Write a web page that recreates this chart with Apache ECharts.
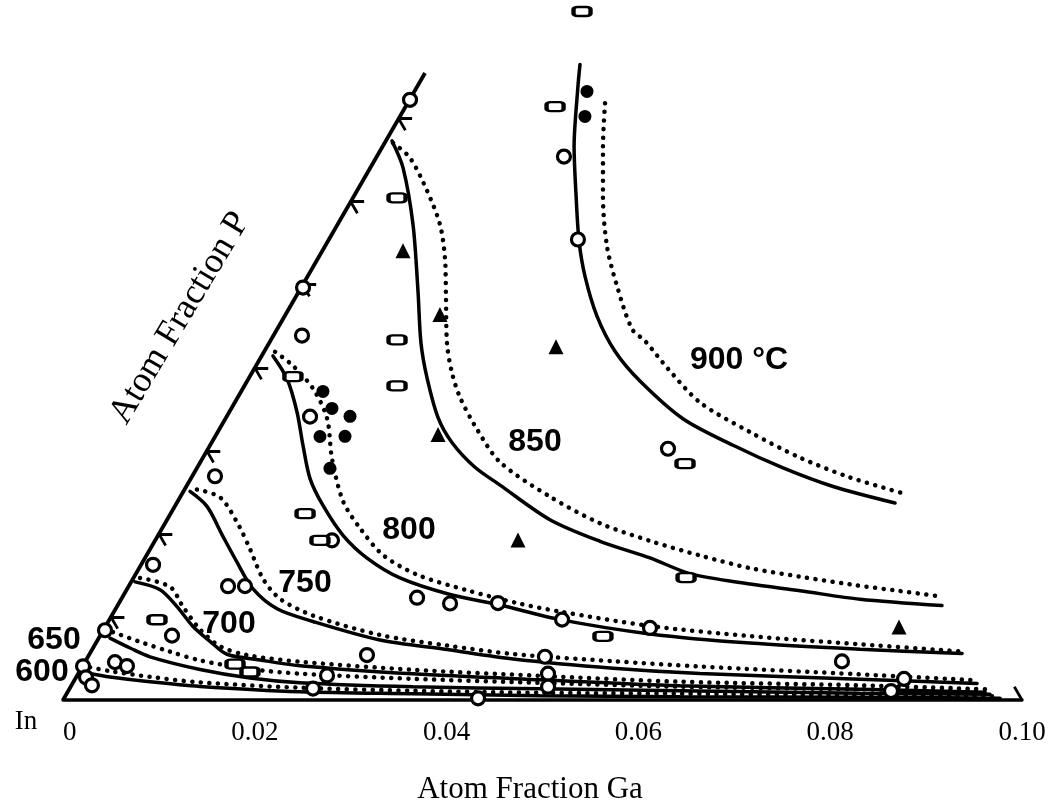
<!DOCTYPE html>
<html><head><meta charset="utf-8">
<script src="https://cdn.jsdelivr.net/npm/echarts/dist/echarts.min.js"></script>
<style>html,body{margin:0;padding:0;background:#fff}#c{width:1060px;height:806px}</style>
</head><body><div id="c"></div>
<script>
// ---- data: [atom fraction Ga, atom fraction P] ----
const GA_TICKS = [0, 0.02, 0.04, 0.06, 0.08, 0.10];
const P_LABELS = [0.02, 0.04, 0.06];
const P_MARKS = [0.01, 0.02, 0.03, 0.04, 0.05, 0.06, 0.07];
const P_AXIS_END = 0.0755;

const iso900Solid = [[0.01565,0.07652],[0.01676,0.07387],[0.01997,0.06665],[0.02319,0.06063],[0.02621,0.05521],[0.02893,0.05101],[0.03259,0.04620],[0.03656,0.04200],[0.04096,0.03841],[0.04771,0.03387],[0.05454,0.03067],[0.06111,0.02795],[0.06745,0.02571],[0.07490,0.02372]];
const iso900Dotted = [[0.02060,0.07185],[0.02297,0.06667],[0.02598,0.06065],[0.02941,0.05463],[0.03286,0.04983],[0.03701,0.04466],[0.03908,0.04323],[0.04315,0.03988],[0.04852,0.03582],[0.05551,0.03226],[0.06226,0.02918],[0.06867,0.02680],[0.07539,0.02482]];
const iso850Solid = [[0.00065,0.06732],[0.00342,0.06408],[0.00789,0.05722],[0.01238,0.04927],[0.01582,0.04301],[0.01855,0.03881],[0.02211,0.03400],[0.02505,0.03101],[0.02895,0.02802],[0.03263,0.02588],[0.03992,0.02171],[0.04644,0.01911],[0.05265,0.01711],[0.05777,0.01522],[0.06466,0.01396],[0.07027,0.01316],[0.07704,0.01213],[0.08597,0.01137]];
const iso850Dotted = [[0.00087,0.06708],[0.00355,0.06527],[0.00730,0.06132],[0.01069,0.05724],[0.01319,0.05327],[0.01571,0.04845],[0.01852,0.04303],[0.02084,0.03943],[0.02318,0.03644],[0.02687,0.03260],[0.03124,0.02865],[0.03854,0.02448],[0.04536,0.02128],[0.05163,0.01916],[0.05773,0.01740],[0.06370,0.01588],[0.06943,0.01485],[0.07511,0.01392],[0.08072,0.01312],[0.08543,0.01245]];
const iso800Solid = [[0.00118,0.04143],[0.00402,0.03868],[0.00704,0.03471],[0.00972,0.03062],[0.01243,0.02666],[0.01540,0.02342],[0.01928,0.01983],[0.02316,0.01709],[0.02779,0.01470],[0.03401,0.01270],[0.03986,0.01143],[0.04699,0.00968],[0.05723,0.00796],[0.06821,0.00685],[0.08005,0.00611],[0.09095,0.00560]];
const iso800Dotted = [[0.00115,0.04193],[0.00385,0.04025],[0.00732,0.03750],[0.01058,0.03391],[0.01350,0.02909],[0.01724,0.02393],[0.02063,0.02069],[0.02464,0.01746],[0.02938,0.01509],[0.03553,0.01321],[0.04150,0.01168],[0.04651,0.01064],[0.05675,0.00892],[0.06779,0.00769],[0.07976,0.00671],[0.09083,0.00584]];
const iso750Solid = [[0.00069,0.02511],[0.00336,0.02331],[0.00682,0.01971],[0.00984,0.01660],[0.01313,0.01337],[0.01683,0.01098],[0.02134,0.00945],[0.02945,0.00722],[0.03700,0.00608],[0.04446,0.00494],[0.05543,0.00383],[0.06483,0.00319],[0.08186,0.00249],[0.09431,0.00200]];
const iso750Dotted = [[0.00129,0.02535],[0.00416,0.02441],[0.00743,0.02142],[0.01041,0.01818],[0.01357,0.01458],[0.01653,0.01219],[0.02098,0.01017],[0.02914,0.00783],[0.03676,0.00656],[0.04416,0.00554],[0.05501,0.00467],[0.06441,0.00403],[0.08156,0.00309],[0.09424,0.00236]];
const iso700Solid = [[0.00040,0.01422],[0.00348,0.01328],[0.00626,0.01125],[0.00913,0.00885],[0.01180,0.00706],[0.01434,0.00551],[0.01813,0.00482],[0.02264,0.00413],[0.03492,0.00315],[0.04852,0.00243],[0.06348,0.00172],[0.08246,0.00129],[0.09569,0.00093]];
const iso700Dotted = [[0.00068,0.01470],[0.00434,0.01364],[0.00688,0.01125],[0.01004,0.00850],[0.01313,0.00647],[0.01649,0.00541],[0.02240,0.00461],[0.03468,0.00364],[0.04828,0.00291],[0.06324,0.00220],[0.08222,0.00177],[0.09550,0.00129]];
const iso650Solid = [[0.00117,0.00745],[0.00386,0.00626],[0.00647,0.00520],[0.01245,0.00368],[0.01817,0.00265],[0.02367,0.00208],[0.03570,0.00159],[0.04906,0.00135],[0.06378,0.00112],[0.08270,0.00081],[0.09632,0.00069]];
const iso650Dotted = [[0.00112,0.00818],[0.00453,0.00700],[0.00825,0.00582],[0.01190,0.00477],[0.01763,0.00373],[0.02312,0.00317],[0.03522,0.00255],[0.04870,0.00207],[0.06354,0.00160],[0.08246,0.00129],[0.09509,0.00105]];
const iso600Solid = [[0.00100,0.00321],[0.00352,0.00276],[0.00797,0.00219],[0.01347,0.00164],[0.02421,0.00100],[0.03612,0.00075],[0.04948,0.00051],[0.06414,0.00040],[0.08294,0.00033],[0.09760,0.00022]];
const iso600Dotted = [[0.00085,0.00394],[0.00316,0.00348],[0.00767,0.00279],[0.01323,0.00212],[0.02397,0.00148],[0.03594,0.00111],[0.04930,0.00087],[0.06396,0.00076],[0.08282,0.00057],[0.09696,0.00046]];

const openCircles = [[0.00005,0.07227],[0.00020,0.04966],[0.00298,0.04388],[0.00870,0.03412],[0.01844,0.01922],[0.00238,0.02694],[0.00125,0.01628],[0.01036,0.01370],[0.01212,0.01371],[0.00749,0.00775],[0.00018,0.00840],[0.00314,0.00456],[0.00462,0.00409],[0.00006,0.00406],[0.00103,0.00273],[0.00213,0.00177],[0.03076,0.01232],[0.03455,0.01162],[0.03952,0.01167],[0.04720,0.00968],[0.05687,0.00868],[0.02899,0.00541],[0.04765,0.00521],[0.02605,0.00296],[0.02538,0.00138],[0.04318,0.00020],[0.04899,0.00317],[0.04978,0.00160],[0.07890,0.00465],[0.08643,0.00254],[0.08580,0.00108],[0.01952,0.06543],[0.02597,0.05545],[0.04796,0.03025]];
const filledCircles = [[0.01800,0.07328],[0.01929,0.07027],[0.00853,0.03715],[0.01049,0.03511],[0.01285,0.03416],[0.01093,0.03173],[0.01353,0.03175],[0.01389,0.02789]];
const triangles = [[0.00841,0.05409],[0.01610,0.04641],[0.02313,0.03196],[0.03781,0.01927],[0.03014,0.04254],[0.08278,0.00879]];
const dashes = [[0.01267,0.08290],[0.01559,0.07144],[0.00460,0.06046],[0.01315,0.04336],[0.01592,0.03782],[0.00451,0.03893],[0.01402,0.02244],[0.01719,0.01921],[0.05760,0.01474],[0.05247,0.00767],[0.05063,0.02846],[0.00497,0.00966],[0.01578,0.00431],[0.01781,0.00337]];

// ---- ternary corner projection (equilateral) ----
const S3 = Math.sqrt(3) / 2;
const tern = ([g, p]) => [g + p / 2, p * S3];
const TICK = 0.0014;

function curve(pts, dotted) {
  return {
    type: 'line', data: pts.map(tern), smooth: 0.3, showSymbol: false, symbol: 'none',
    silent: true, z: 2, clip: false,
    lineStyle: dotted ? { color: '#000', width: 4.5, type: [0.1, 8.5], cap: 'round', opacity: 1 }
                      : { color: '#000', width: 3.5, cap: 'round', opacity: 1 }
  };
}
function marks(pts, extra) {
  return Object.assign({ type: 'scatter', data: pts.map(tern), silent: true, z: 6, clip: false }, extra);
}

const tickSegs = P_MARKS.map(p => [[0, p], [TICK, p]])
  .concat(P_MARKS.map(p => [[0, p], [TICK, p - TICK]]))
  .concat([[[0.10, 0], [0.10 - 0.0016, 0.0016]]]);

const serif = '"Liberation Serif", "Times New Roman", serif';
const sans = '"Liberation Sans", Arial, sans-serif';
const isoFont = 'bold 32px ' + sans;

const chart = echarts.init(document.getElementById('c'), null, { renderer: 'canvas' });
chart.setOption({
  backgroundColor: '#fff',
  animation: false,
  grid: { left: 63, right: 38, top: 9.52, bottom: 106 },
  xAxis: {
    type: 'value', min: 0, max: 0.10, interval: 0.02,
    axisLine: { show: true, lineStyle: { color: '#000', width: 3.5 } },
    axisTick: { show: false }, splitLine: { show: false },
    axisLabel: { margin: 19, color: '#000', fontFamily: serif, fontSize: 27, alignMinLabel: 'left',
      formatter: v => (v === 0 ? '0' : v.toFixed(2)) }
  },
  yAxis: { type: 'value', min: 0, max: 0.072, show: false },
  series: [
    { type: 'line', data: [[0, 0], [0, P_AXIS_END]].map(tern), symbol: 'none', silent: true, z: 3,
      lineStyle: { color: '#000', width: 3.8 } },
    { type: 'lines', coordinateSystem: 'cartesian2d', silent: true, z: 3,
      data: tickSegs.map(s => ({ coords: s.map(tern) })),
      lineStyle: { color: '#000', width: 2.8, opacity: 1 } },
    { type: 'scatter', silent: true, symbolSize: 1, itemStyle: { opacity: 0 },
      data: P_LABELS.map(p => ({ value: tern([0, p]), name: p.toFixed(2) })),
      label: { show: true, position: 'left', distance: 17, offset: [0, -5], formatter: '{b}',
        color: '#000', fontFamily: serif, fontSize: 25 } },
    curve(iso900Solid, false), curve(iso900Dotted, true),
    curve(iso850Solid, false), curve(iso850Dotted, true),
    curve(iso800Solid, false), curve(iso800Dotted, true),
    curve(iso750Solid, false), curve(iso750Dotted, true),
    curve(iso700Solid, false), curve(iso700Dotted, true),
    curve(iso650Solid, false), curve(iso650Dotted, true),
    curve(iso600Solid, false), curve(iso600Dotted, true),
    marks(openCircles, { symbol: 'circle', symbolSize: 13, itemStyle: { color: '#fff', borderColor: '#000', borderWidth: 3.2, opacity: 1 } }),
    marks(filledCircles, { symbol: 'circle', symbolSize: 13, itemStyle: { color: '#000', opacity: 1 } }),
    marks(triangles, { symbol: 'triangle', symbolSize: 15, itemStyle: { color: '#000', opacity: 1 } }),
    marks(dashes, { symbol: 'roundRect', symbolSize: [17, 9], itemStyle: { color: '#fff', borderColor: '#000', borderWidth: 3.2, opacity: 1 } })
  ],
  graphic: [
    { type: 'text', x: 42, y: 672, style: { text: '600', font: isoFont, fill: '#000', align: 'center', verticalAlign: 'middle' } },
    { type: 'text', x: 54, y: 640, style: { text: '650', font: isoFont, fill: '#000', align: 'center', verticalAlign: 'middle' } },
    { type: 'text', x: 229, y: 624, style: { text: '700', font: isoFont, fill: '#000', align: 'center', verticalAlign: 'middle' } },
    { type: 'text', x: 305, y: 583, style: { text: '750', font: isoFont, fill: '#000', align: 'center', verticalAlign: 'middle' } },
    { type: 'text', x: 409, y: 530, style: { text: '800', font: isoFont, fill: '#000', align: 'center', verticalAlign: 'middle' } },
    { type: 'text', x: 535, y: 442, style: { text: '850', font: isoFont, fill: '#000', align: 'center', verticalAlign: 'middle' } },
    { type: 'text', x: 739, y: 360, style: { text: '900 °C', font: isoFont, fill: '#000', align: 'center', verticalAlign: 'middle' } },
    { type: 'text', x: 26, y: 722, style: { text: 'In', font: '27px ' + serif, fill: '#000', align: 'center', verticalAlign: 'middle' } },
    { type: 'text', x: 530, y: 790, style: { text: 'Atom Fraction Ga', font: '31px ' + serif, fill: '#000', align: 'center', verticalAlign: 'middle' } },
    { type: 'text', x: 180, y: 318, rotation: Math.PI / 180 * 59,
      style: { text: 'Atom Fraction P', font: '36px ' + serif, fill: '#000', align: 'center', verticalAlign: 'middle' } }
  ]
});
</script></body></html>
